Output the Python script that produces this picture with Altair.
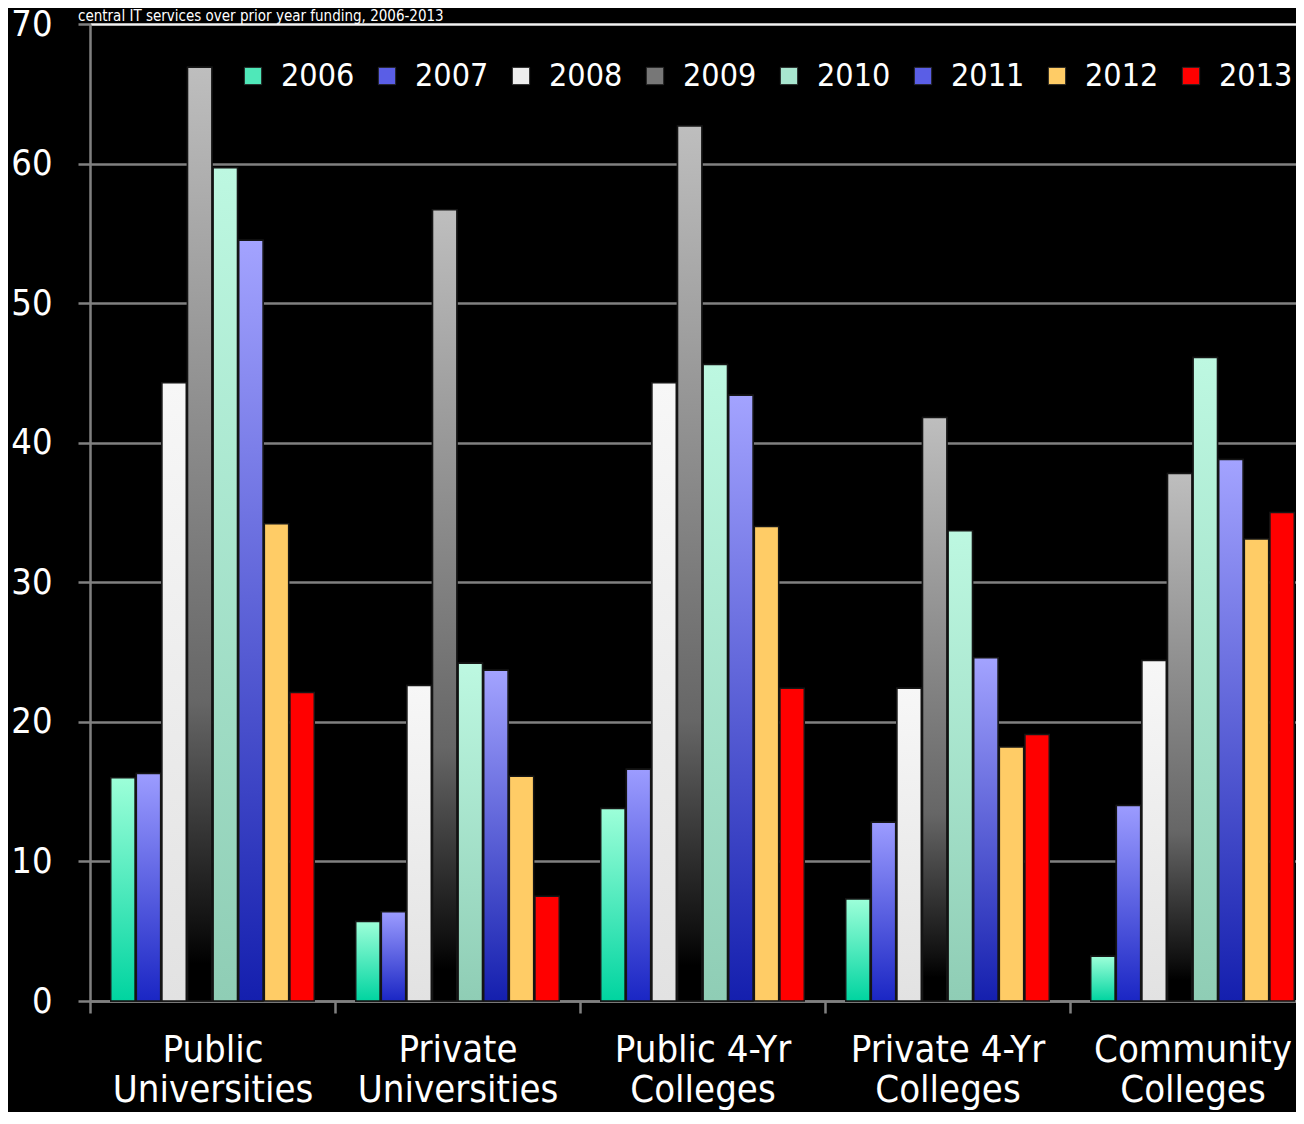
import altair as alt
import pandas as pd

FONT = "DejaVu Sans Condensed, DejaVu Sans, sans-serif"

categories = [
    "Public\nUniversities",
    "Private\nUniversities",
    "Public 4-Yr\nColleges",
    "Private 4-Yr\nColleges",
    "Community\nColleges",
]
years = ["2006", "2007", "2008", "2009", "2010", "2011", "2012", "2013"]

v2006 = [16.0, 5.7, 13.8, 7.3, 3.2]
v2007 = [16.3, 6.4, 16.6, 12.8, 14.0]
v2008 = [44.3, 22.6, 44.3, 22.4, 24.4]
v2009 = [66.9, 56.7, 62.7, 41.8, 37.8]
v2010 = [59.7, 24.2, 45.6, 33.7, 46.1]
v2011 = [54.5, 23.7, 43.4, 24.6, 38.8]
v2012 = [34.2, 16.1, 34.0, 18.2, 33.1]
v2013 = [22.1, 7.5, 22.4, 19.1, 35.0]
series = [v2006, v2007, v2008, v2009, v2010, v2011, v2012, v2013]

legend_colors = ["#4fe8b9", "#5a5ee6", "#eeeeee", "#777777",
                 "#a8e6cf", "#5a5ee6", "#ffcc66", "#ff0000"]

gradients = {
    "2006": [(0, "#9dffd9"), (1, "#00d4a0")],
    "2007": [(0, "#9c9cff"), (1, "#1a26c4")],
    "2008": [(0, "#f7f7f7"), (1, "#e2e2e2")],
    "2009": [(0, "#bebebe"), (0.68, "#666666"), (0.92, "#111111"), (0.96, "#000000"), (1, "#000000")],
    "2010": [(0, "#bdf8e1"), (1, "#8fcdb5")],
    "2011": [(0, "#a3a3ff"), (1, "#141fae")],
}

rows = []
for yr, vals in zip(years, series):
    for cat, v in zip(categories, vals):
        rows.append({"category": cat, "year": yr, "value": v})
df = pd.DataFrame(rows)

GRID = "#808080"

x_enc = alt.X(
    "category:N",
    sort=categories,
    scale=alt.Scale(domain=categories, range=[0, 1225], paddingInner=0, paddingOuter=0),
    axis=alt.Axis(
        title=None, labelAngle=0, tickBand="extent", grid=False,
        tickSize=12, tickWidth=2.5, tickColor=GRID,
        domainColor=GRID, domainWidth=2.5,
        labelFontSize=38, labelFont=FONT, labelColor="white",
        labelLineHeight=40, labelPadding=18, labelLimit=400,
        labelExpr="split(datum.label, '\\n')",
    ),
)
xo_enc = alt.XOffset("year:N", scale=alt.Scale(domain=years, paddingInner=0.05, paddingOuter=0.81))
y_enc = alt.Y(
    "value:Q",
    scale=alt.Scale(domain=[0, 70], nice=False),
    axis=alt.Axis(
        title=None, values=[0, 10, 20, 30, 40, 50, 60, 70], grid=True,
        gridColor={"condition": {"test": "datum.value === 70", "value": "#f2f2f2"}, "value": GRID},
        gridWidth=2.5, tickSize=12, tickWidth=2.5, tickColor=GRID,
        domainColor=GRID, domainWidth=2.5,
        labelFontSize=36, labelFont=FONT, labelColor="white", labelPadding=26,
    ),
)

base = alt.Chart(df)

main = base.mark_bar(stroke="#151515", strokeWidth=1.5).encode(
    x=x_enc, xOffset=xo_enc, y=y_enc,
    color=alt.Color(
        "year:N",
        scale=alt.Scale(domain=years, range=legend_colors),
        legend=alt.Legend(
            orient="none", legendX=147, legendY=36, direction="horizontal", columns=8,
            title=None, labelFontSize=32, labelFont=FONT, labelColor="white",
            symbolType="square", symbolSize=300, symbolStrokeColor="#222222",
            symbolStrokeWidth=1, symbolOpacity=1, labelOffset=12, columnPadding=16,
            padding=0,
        ),
    ),
)

layers = [main]
for yr, stops in gradients.items():
    grad = alt.LinearGradient(
        gradient="linear",
        stops=[alt.GradientStop(offset=o, color=c) for o, c in stops],
        x1=0, x2=0, y1=0, y2=1,
    )
    layers.append(
        base.transform_filter(alt.datum.year == yr)
        .mark_bar(color=grad, stroke="#151515", strokeWidth=1.5)
        .encode(x=x_enc, xOffset=xo_enc, y=y_enc)
    )

chart = (
    alt.layer(*layers)
    .properties(
        width=1206,
        height=977,
        autosize=alt.AutoSizeParams(type="none"),
        padding={"left": 82, "top": 16, "right": 0, "bottom": 111},
        background="black",
        title=alt.TitleParams(
            text="central IT services over prior year funding, 2006-2013",
            anchor="start", frame="group", color="white", fontSize=15,
            font=FONT, fontWeight="normal", baseline="alphabetic", offset=0, dx=-12, dy=30,
        ),
    )
    .configure_view(stroke=None)
)

chart.save("out.html", embed_options={"renderer": "svg", "actions": False})
